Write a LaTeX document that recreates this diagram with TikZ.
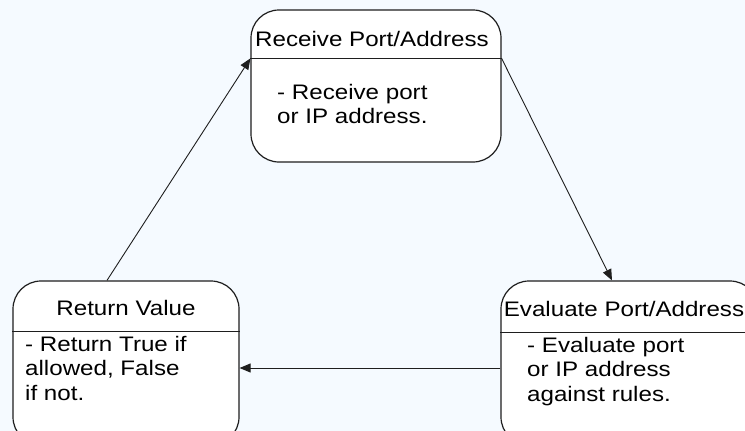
\documentclass[tikz,border=0pt]{standalone}
\usepackage{fontspec}
\setmainfont{Liberation Sans}[FakeStretch=1.15]
\usetikzlibrary{calc,arrows.meta}
\definecolor{bg}{RGB}{245,250,255}
\definecolor{ink}{RGB}{30,30,30}
\begin{document}
\begin{tikzpicture}[x=1pt,y=-1pt,
  statebox/.style={draw=ink,line width=1.2pt,fill=white,rounded corners=28pt,inner sep=0pt},
  divider/.style={draw=ink,line width=1.2pt},
  conn/.style={draw=ink,line width=0.9pt,-{Triangle[length=11pt,width=9pt]}},
  title/.style={anchor=base,inner sep=0pt,font=\fontsize{21}{24.3}\selectfont},
  body/.style={anchor=north west,inner sep=0pt,align=left,font=\fontsize{21}{24.3}\selectfont}]
\useasboundingbox (0,0) rectangle (745,431);
\clip (0,0) rectangle (745,431);
\fill[bg] (0,0) rectangle (745,431);
% boxes
\node[statebox,minimum width=250pt,minimum height=152pt] (recv) at (376,86) {};
\node[statebox,minimum width=226pt,minimum height=164pt] (ret) at (126,363) {};
\node[statebox,minimum width=257pt,minimum height=164pt] (eval) at (629.5,363) {};
% dividers
\coordinate (rdl) at ($(recv.north west)+(0,49)$);
\coordinate (rdr) at ($(recv.north east)+(0,49)$);
\coordinate (tdl) at ($(ret.north west)+(0,51)$);
\coordinate (tdr) at ($(ret.north east)+(0,51)$);
\coordinate (edl) at ($(eval.north west)+(0,52)$);
\coordinate (edr) at ($(eval.north east)+(0,52)$);
\draw[divider] (rdl) -- (rdr);
\draw[divider] (tdl) -- (tdr);
\draw[divider] (edl) -- (edr);
% titles
\node[title] (recvt) at (372,46) {Receive Port/Address};
\node[title] (rett) at (126,315) {Return Value};
\node[title] (evalt) at (624,316) {Evaluate Port/Address};
% bodies
\node[body] (recvb) at (277,84) {- Receive port\\or IP address.};
\node[body] (retb) at (25,336) {- Return True if\\allowed, False\\if not.};
\node[body] (evalb) at (527,337) {- Evaluate port\\or IP address\\against rules.};
% connectors
\draw[conn] ($(ret.north)+(-19,0)$) -- (rdl);
\draw[conn] (rdr) -- ($(eval.north)+(-17.5,0)$);
\draw[conn] ($(eval.west)+(0,5)$) -- ($(ret.east)+(0,5)$);
\end{tikzpicture}
\end{document}
